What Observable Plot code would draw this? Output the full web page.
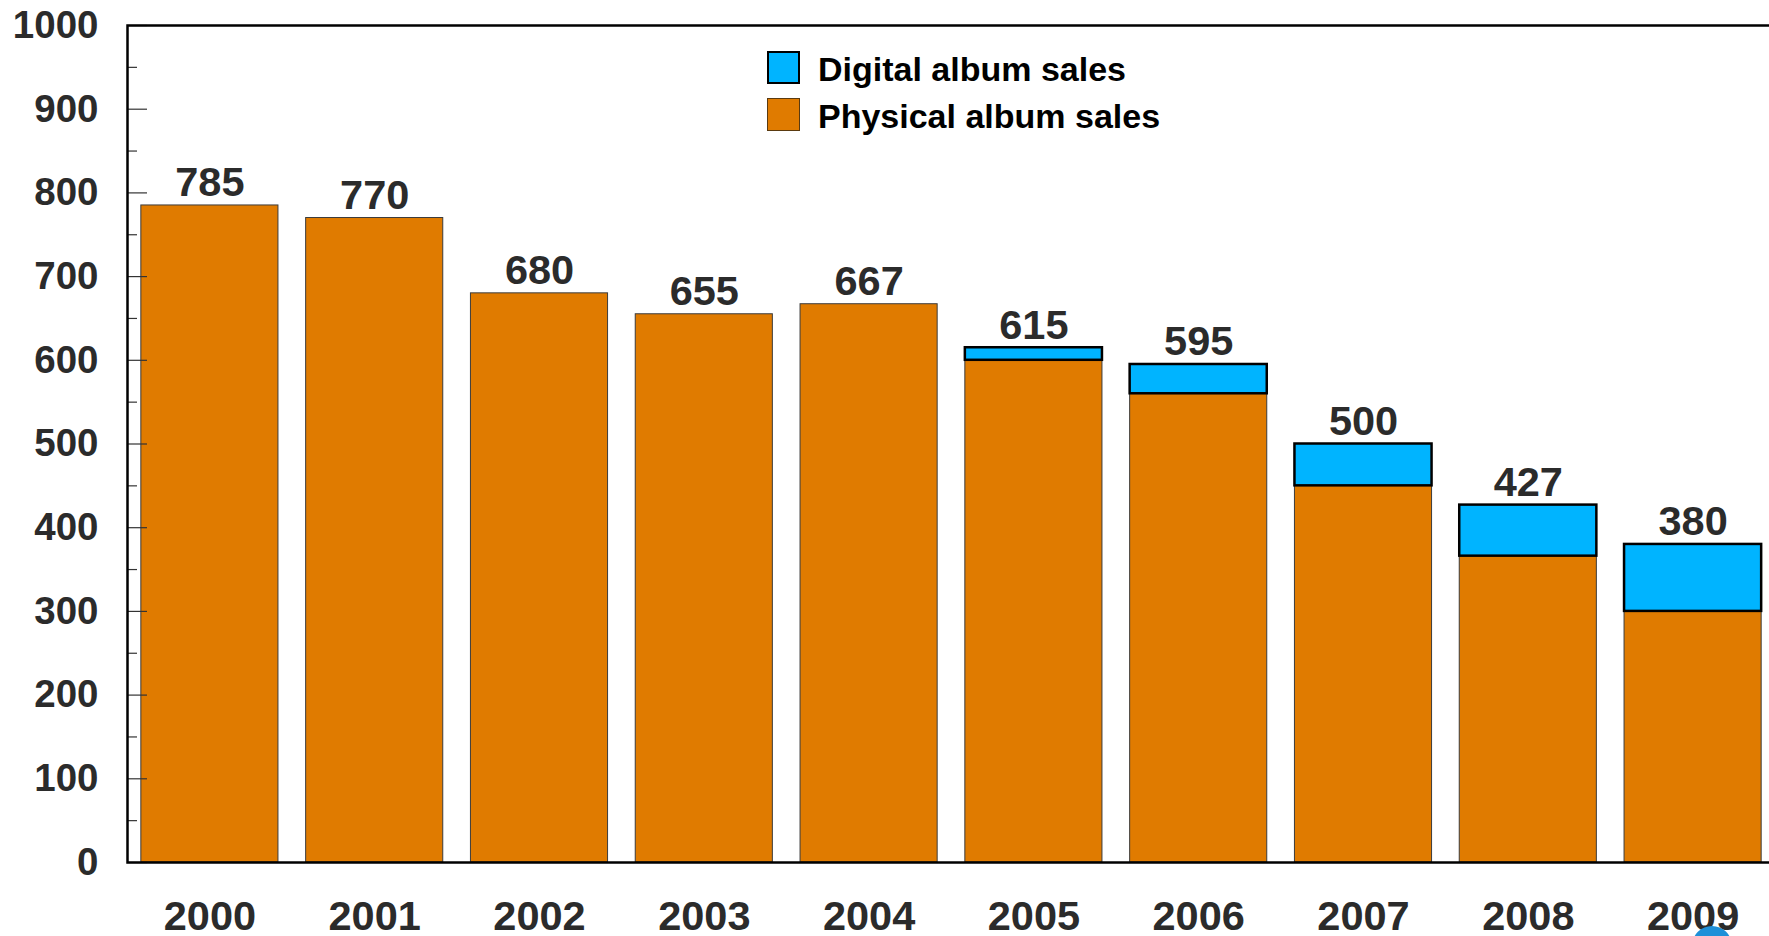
<!DOCTYPE html>
<html><head><meta charset="utf-8">
<script src="https://cdn.jsdelivr.net/npm/d3@7"></script>
<script src="https://cdn.jsdelivr.net/npm/@observablehq/plot@0.6"></script>
<style>
html,body{margin:0;padding:0;background:#fff;overflow:hidden;}
#wrap{position:relative;width:1769px;height:936px;overflow:hidden;font-family:'Liberation Sans',Arial,sans-serif;}
#chart{position:absolute;left:0;top:0;}
.lg{position:absolute;left:818px;font-size:34px;font-weight:bold;color:#000;line-height:1;white-space:nowrap;}
.sw{position:absolute;left:767px;width:33px;height:33px;box-sizing:border-box;}
#logo{position:absolute;left:1692px;top:926px;width:40px;height:40px;border-radius:50%;background:#1e90d8;}
</style></head><body>
<div id="wrap"><div id="chart"></div>
<div class="sw" style="top:51px;background:#00B4FF;border:2px solid #000;"></div>
<div class="lg" id="lg1" style="top:52px;">Digital album sales</div>
<div class="sw" style="top:98px;background:#E07B00;border:1.5px solid #5a3a10;"></div>
<div class="lg" id="lg2" style="top:99px;">Physical album sales</div>
<div id="logo"></div>
</div>
<script>
const years = ["2000","2001","2002","2003","2004","2005","2006","2007","2008","2009"];
const physical = [785, 770, 680, 655, 667, 600, 560, 450, 366, 300];
const digital  = [0, 0, 0, 0, 0, 15, 35, 50, 61, 80];
const totals   = [785, 770, 680, 655, 667, 615, 595, 500, 427, 380];
const majorTicks = [0,100,200,300,400,500,600,700,800,900,1000];
const minorTicks = [50,150,250,350,450,550,650,750,850,950];

const rows = years.map((y,i)=>({year:y, physical:physical[i], digital:digital[i], total:totals[i]}));
const frameW = 1775 - 127;

const chart = Plot.plot({
  width:1769, height:936,
  marginTop:25, marginBottom:74, marginLeft:127, marginRight:-6,
  style:{fontFamily:"'Liberation Sans', Arial, sans-serif", background:"white", overflow:"hidden"},
  x:{domain:years, paddingInner:0.168, paddingOuter:0.084, round:false, label:null},
  y:{domain:[0,1000], label:null},
  marks:[
    Plot.barY(rows,{x:"year", y1:0, y2:"physical", fill:"#E07B00", stroke:"#3c3c3c", strokeWidth:1}),
    Plot.barY(rows.filter(d=>d.digital>0),{x:"year", y1:"physical", y2:"total", fill:"#00B4FF", stroke:"#000", strokeWidth:2.5}),
    Plot.text(rows,{x:"year", y:"total", text:d=>String(d.total), dy:-9, lineAnchor:"bottom", fontSize:41.5, fontWeight:"bold", fill:"#2b2b2b"}),
    Plot.tickY(majorTicks,{y:d=>d, insetRight:frameW-20, stroke:"#333", strokeWidth:1.2}),
    Plot.tickY(minorTicks,{y:d=>d, insetRight:frameW-10, stroke:"#333", strokeWidth:1.2}),
    Plot.axisY(majorTicks,{tickSize:0, tickPadding:29, tickFormat:d=>String(d), fontSize:38.5, fontWeight:"bold", fill:"#2b2b2b", label:null}),
    Plot.axisX({tickSize:0, tickPadding:38, fontSize:41.5, fontWeight:"bold", fill:"#2b2b2b", label:null}),
    Plot.frame({stroke:"#000", strokeWidth:2.5})
  ]
});
document.getElementById("chart").append(chart);
</script>
</body></html>
